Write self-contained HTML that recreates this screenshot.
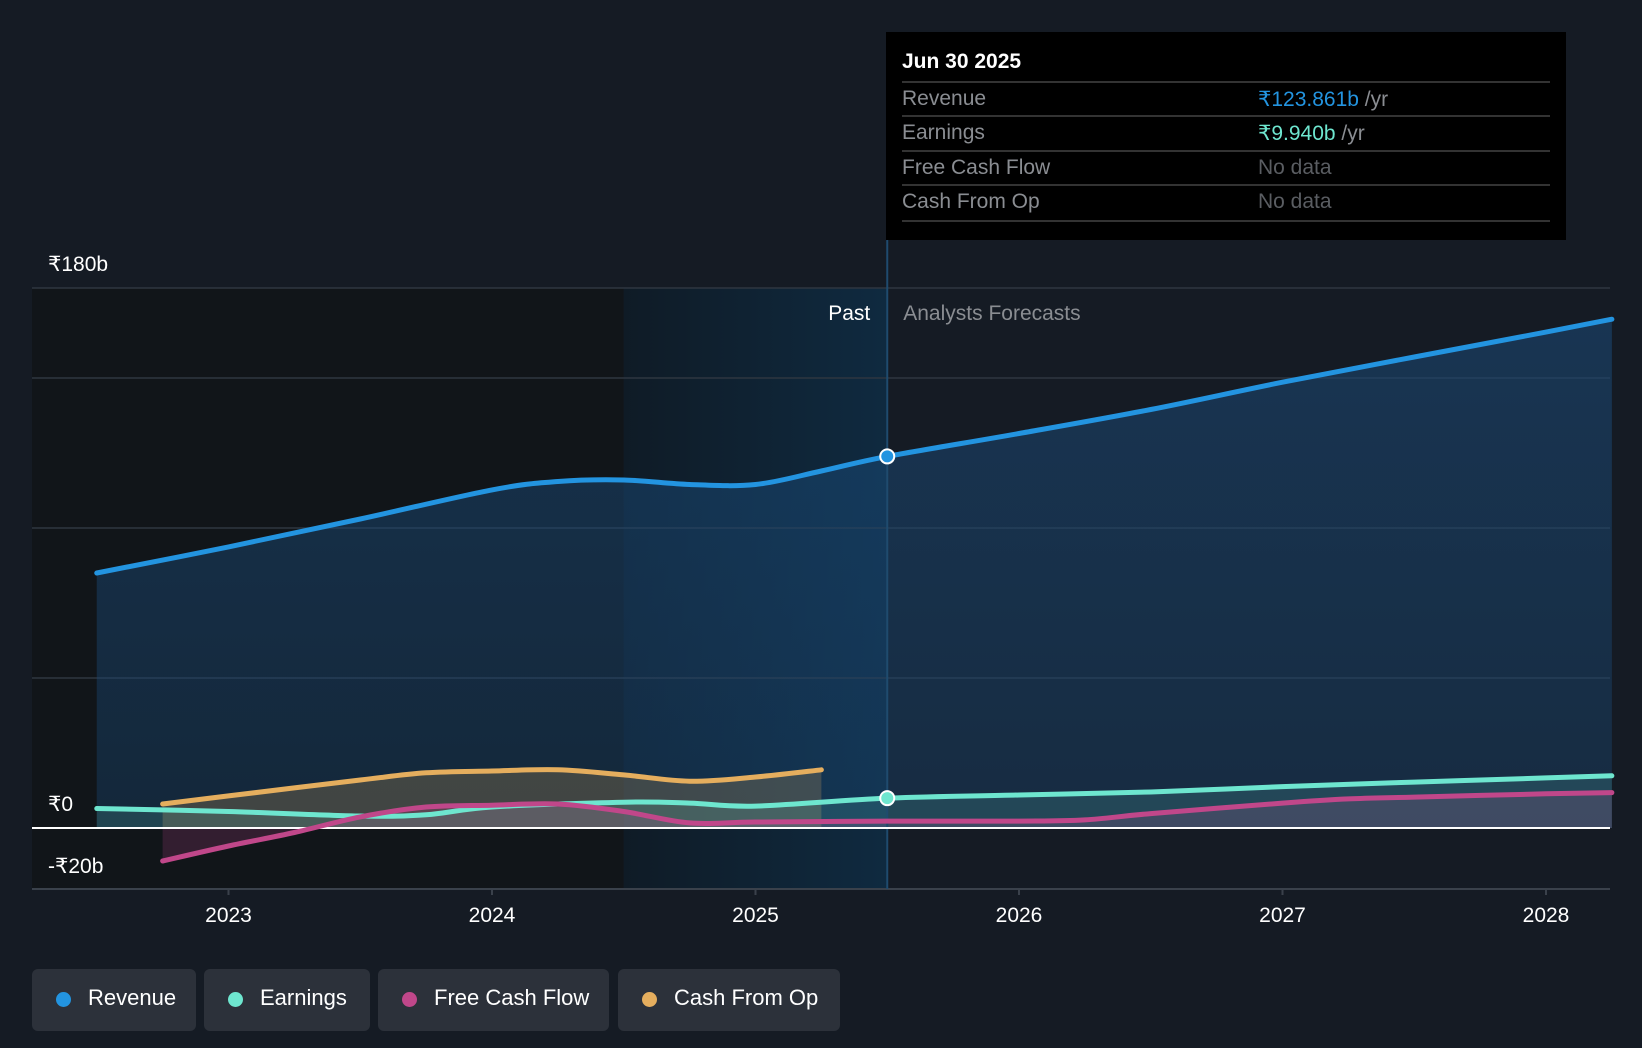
<!DOCTYPE html>
<html><head><meta charset="utf-8">
<style>
body{margin:0;background:#151b24;width:1642px;height:1048px;overflow:hidden;font-family:"Liberation Sans",sans-serif;}
#wrap{position:relative;width:1642px;height:1048px;}
svg{position:absolute;left:0;top:0;}
.tt{position:absolute;left:886px;top:32px;width:680px;height:208px;background:#000;}
.tt .d{position:absolute;left:16px;top:18px;color:#fff;font-size:21px;font-weight:bold;}
.row{position:absolute;left:16px;width:648px;height:34px;border-top:2px solid #333;font-size:21px;color:#8a8d92;}
.row span{position:absolute;top:4px;}
.row .v{left:356px;}
.legend{position:absolute;top:969px;height:62px;background:#2c313a;border-radius:6px;color:#fff;font-size:22px;line-height:58px;}
.legend i{position:absolute;left:24px;top:23px;width:15px;height:15px;border-radius:50%;}
.legend span{position:absolute;left:56px;}
</style></head><body>
<div id="wrap">
<svg id="chart" width="1642" height="1048"></svg>
<div class="tt">
<div class="d">Jun 30 2025</div>
<div class="row" style="top:49px"><span>Revenue</span><span class="v"><b style="color:#2394e0;font-weight:normal">₹123.861b</b> /yr</span></div>
<div class="row" style="top:83px"><span>Earnings</span><span class="v"><b style="color:#6ee6cf;font-weight:normal">₹9.940b</b> /yr</span></div>
<div class="row" style="top:118px"><span>Free Cash Flow</span><span class="v" style="color:#5a5d62">No data</span></div>
<div class="row" style="top:152px;height:34px;border-bottom:2px solid #333"><span>Cash From Op</span><span class="v" style="color:#5a5d62">No data</span></div>
</div>
<div class="legend" style="left:32px;width:164px"><i style="background:#2394e0"></i><span>Revenue</span></div>
<div class="legend" style="left:204px;width:166px"><i style="background:#6ee6cf"></i><span>Earnings</span></div>
<div class="legend" style="left:378px;width:231px"><i style="background:#c0478a"></i><span>Free Cash Flow</span></div>
<div class="legend" style="left:618px;width:222px"><i style="background:#e5ae5e"></i><span>Cash From Op</span></div>
</div>
<script>
const revT=[2022.5,2023,2023.5,2024,2024.25,2024.5,2024.75,2025,2025.25,2025.5,2026,2026.5,2027,2027.5,2028,2028.25];
const revV=[85,93.7,103,112.7,115.5,116,114.5,114.5,119,123.86,131.5,139.5,148.6,157,165.3,169.6];
const earnT=[2022.5,2023,2023.5,2023.75,2024,2024.5,2024.75,2025,2025.5,2026,2026.5,2027,2027.5,2028,2028.25];
const earnV=[6.5,5.5,4,4.4,7,8.6,8.3,7.3,9.94,11,12,13.8,15.3,16.7,17.4];
const fcfT=[2022.75,2023,2023.25,2023.5,2023.75,2024,2024.25,2024.5,2024.75,2025,2025.5,2026,2026.25,2026.5,2027,2027.25,2027.5,2028,2028.25];
const fcfV=[-11,-6,-1.5,3.7,7,7.6,8,5.5,1.7,2,2.3,2.3,2.7,4.8,8.3,9.7,10.3,11.4,11.8];
const cfoT=[2022.75,2023,2023.5,2023.75,2024,2024.25,2024.5,2024.75,2025,2025.25];
const cfoV=[8,10.7,16,18.4,19,19.4,17.7,15.6,17,19.4];
const yTicks=[180,0,-20];
const yLabels=["₹180b","₹0","-₹20b"];
const gridVals=[150,100,50];
const xTicks=[2023,2024,2025,2026,2027,2028];

const X=t=>228.5+(t-2023)*263.5;
const Y=v=>828-v*3;
const L=32,R=1610,T=288,B=889;
const NS='http://www.w3.org/2000/svg';
const svg=document.getElementById('chart');
function mk(tag,at,name){const e=document.createElementNS(NS,tag);for(const k in at)e.setAttribute(k,at[k]);


svg.appendChild(e);return e;}
function path(ts,vs){const p=ts.map((t,i)=>[X(t),Y(vs[i])]);let d='M'+p[0][0]+','+p[0][1];
for(let i=0;i<p.length-1;i++){const p0=p[i-1]||p[i],p1=p[i],p2=p[i+1],p3=p[i+2]||p2;
d+=` C${p1[0]+(p2[0]-p0[0])/6},${p1[1]+(p2[1]-p0[1])/6} ${p2[0]-(p3[0]-p1[0])/6},${p2[1]-(p3[1]-p1[1])/6} ${p2[0]},${p2[1]}`;}return d;}
const defs=mk('defs',{},'defs');
defs.innerHTML='<linearGradient id="rg" x1="0" y1="0" x2="0" y2="1"><stop offset="0" stop-color="#1a4a78" stop-opacity="0.55"/><stop offset="1" stop-color="#1a4a78" stop-opacity="0.35"/></linearGradient><linearGradient id="pg" x1="0" y1="0" x2="1" y2="0"><stop offset="0" stop-color="#0f1b26"/><stop offset="1" stop-color="#0f2a40"/></linearGradient>';
mk('rect',{x:L,y:T,width:X(2024.5)-L,height:B-T,fill:'#111519'},'past-dark-region');
mk('rect',{x:X(2024.5),y:T,width:X(2025.5)-X(2024.5),height:B-T,fill:'url(#pg)'},'past-highlight-region');
gridVals.concat([180]).forEach(v=>mk('line',{x1:L,x2:R,y1:Y(v),y2:Y(v),stroke:'#2f3640','stroke-width':1.5},'gridline'));
mk('line',{x1:L,x2:R,y1:B,y2:B,stroke:'#3a414b','stroke-width':2},'x-axis-line');
xTicks.forEach(t=>{mk('line',{x1:X(t),x2:X(t),y1:B,y2:B+6,stroke:'#3a414b','stroke-width':2},'x-tick');
const tx=mk('text',{x:X(t),y:922,fill:'#fff','font-size':21,'text-anchor':'middle'},'x-tick-label');tx.textContent=t;});
yTicks.forEach((v,i)=>{const tx=mk('text',{x:48,y:v<0?Y(v)-15:Y(v)-17,fill:'#fff','font-size':21},'y-tick-label');tx.textContent=yLabels[i];});
function area(ts,vs,fill,name){const d=path(ts,vs)+` L${X(ts[ts.length-1])},${Y(0)} L${X(ts[0])},${Y(0)} Z`;mk('path',{d,fill},name);}
area(revT,revV,'url(#rg)','revenue-area');
area(cfoT,cfoV,'rgba(229,174,94,0.22)','cfo-area');
area(fcfT,fcfV,'rgba(192,71,138,0.2)','fcf-area');
area(earnT,earnV,'rgba(110,230,207,0.15)','earnings-area');
mk('line',{x1:X(2025.5),x2:X(2025.5),y1:240,y2:B,stroke:'#1f4b6e','stroke-width':2},'past-divider');
mk('line',{x1:L,x2:R,y1:Y(0),y2:Y(0),stroke:'#fff','stroke-width':2},'zero-line');
mk('path',{d:path(cfoT,cfoV),fill:'none',stroke:'#e5ae5e','stroke-width':5,'stroke-linecap':'round'},'cfo-line');
mk('path',{d:path(earnT,earnV),fill:'none',stroke:'#6ee6cf','stroke-width':5,'stroke-linecap':'round'},'earnings-line');
mk('path',{d:path(fcfT,fcfV),fill:'none',stroke:'#c0478a','stroke-width':5,'stroke-linecap':'round'},'fcf-line');
mk('path',{d:path(revT,revV),fill:'none',stroke:'#2394e0','stroke-width':5,'stroke-linecap':'round'},'revenue-line');
mk('circle',{cx:X(2025.5),cy:Y(revV[9]),r:7,fill:'#2394e0',stroke:'#fff','stroke-width':2},'revenue-marker');
mk('circle',{cx:X(2025.5),cy:Y(earnV[8]),r:7,fill:'#6ee6cf',stroke:'#fff','stroke-width':2},'earnings-marker');
let t1=mk('text',{x:X(2025.5)-17,y:320,fill:'#fff','font-size':21,'text-anchor':'end'},'past-label');t1.textContent='Past';
let t2=mk('text',{x:X(2025.5)+16,y:320,fill:'#8a8d92','font-size':21},'forecast-label');t2.textContent='Analysts Forecasts';
</script>
</body></html>
